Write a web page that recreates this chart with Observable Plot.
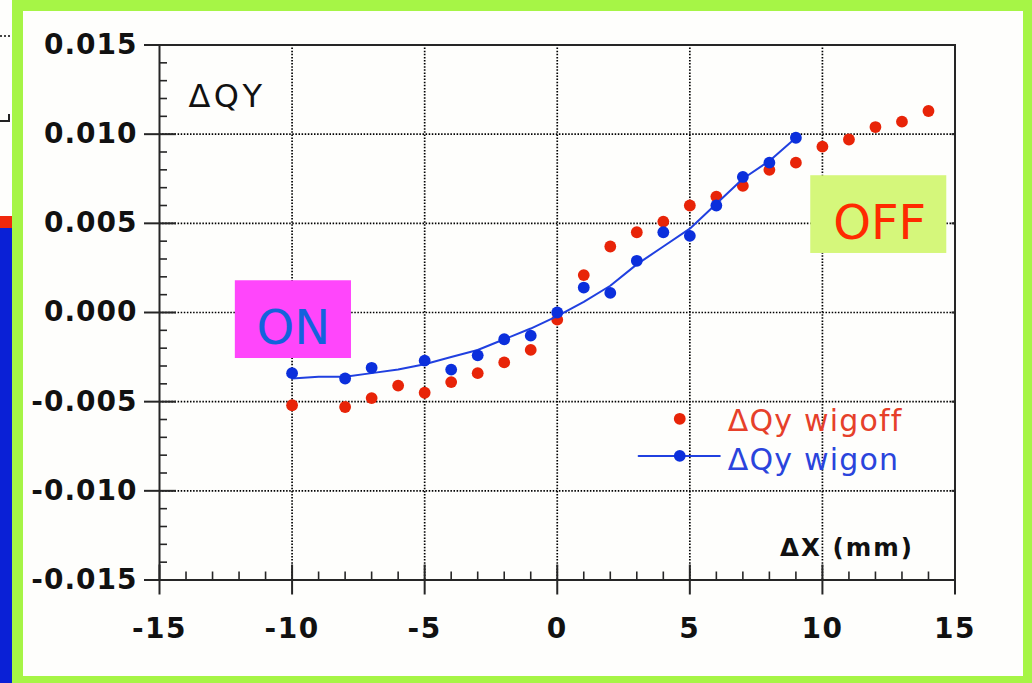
<!DOCTYPE html>
<html>
<head>
<meta charset="utf-8">
<script src="https://cdn.jsdelivr.net/npm/d3@7"></script>
<script src="https://cdn.jsdelivr.net/npm/@observablehq/plot@0.6"></script>
<style>
  html, body { margin: 0; padding: 0; background: #fefefc; }
  #page { position: relative; width: 1032px; height: 683px; overflow: hidden; background: #fefefc; }
  .deco { position: absolute; box-sizing: border-box; }
  #chart { position: absolute; left: 0; top: 0; }
  #chart g[aria-label="y-axis tick label"] text { letter-spacing: 1px; }
  #chart g[aria-label="x-axis tick label"] text { letter-spacing: 1.5px; }
  #chart g[aria-description="title"] text { letter-spacing: 3.5px; }
  #chart g[aria-description="axis-name"] text { letter-spacing: 2px; }
  #chart g[aria-description="legend-text"] text { letter-spacing: 1.2px; }
</style>
</head>
<body>
<div id="page">
  <!-- slide frame and neighbouring slide edge -->
  <div class="deco" style="left:11.5px;top:0;width:1020.5px;height:683px;background:#a6f546"></div>
  <div class="deco" style="left:23px;top:11px;width:1000px;height:665px;background:#fefefc"></div>
  <div class="deco" style="left:0;top:216px;width:11.5px;height:12px;background:#f0280c"></div>
  <div class="deco" style="left:0;top:228px;width:11.5px;height:455px;background:#0a20d6"></div>
  <div class="deco" style="left:0;top:35px;width:10px;height:2px;border-top:2px dotted #444"></div>
  <div class="deco" style="left:0;top:114px;width:10px;height:8px;border-right:2px solid #222;border-bottom:2px solid #222"></div>
  <div id="chart"></div>
</div>
<script>
// Tune shift ΔQy versus horizontal offset ΔX (mm), wiggler off / on
const wigoffX = [-10, -8, -7, -6, -5, -4, -3, -2, -1, 0, 1, 2, 3, 4, 5, 6, 7, 8, 9, 10, 11, 12, 13, 14];
const wigoffY = [-0.0052, -0.0053, -0.0048, -0.0041, -0.0045, -0.0039, -0.0034, -0.0028, -0.0021, -0.0004,
                 0.0021, 0.0037, 0.0045, 0.0051, 0.0060, 0.0065, 0.0071, 0.0080, 0.0084, 0.0093,
                 0.0097, 0.0104, 0.0107, 0.0113];

const wigonX = [-10, -8, -7, -5, -4, -3, -2, -1, 0, 1, 2, 3, 4, 5, 6, 7, 8, 9];
const wigonY = [-0.0034, -0.0037, -0.0031, -0.0027, -0.0032, -0.0024, -0.0015, -0.0013, 0.0000,
                0.0014, 0.0011, 0.0029, 0.0045, 0.0043, 0.0060, 0.0076, 0.0084, 0.0098];

// fitted curve through the wiggler-on points
const fitX = [-10, -9, -8, -7, -6, -5, -4, -3, -2, -1, 0, 1, 2, 3, 4, 5, 6, 7, 8, 9];
const fitY = [-0.0037, -0.0036, -0.0036, -0.0034, -0.0032, -0.0029, -0.0025, -0.0021, -0.0015, -0.0009,
              -0.0002, 0.0006, 0.0015, 0.0027, 0.0037, 0.0047, 0.0061, 0.0075, 0.0085, 0.0098];

const xTicks = [-15, -10, -5, 0, 5, 10, 15];
const yTicks = [-0.015, -0.010, -0.005, 0.000, 0.005, 0.010, 0.015];
const xGrid = [-10, -5, 0, 5, 10];
const yGrid = [-0.010, -0.005, 0.000, 0.005, 0.010];

const seriesNames = ["ΔQy wigoff", "ΔQy wigon"];
const titleText = "ΔQY";
const xName = "ΔX (mm)";

const wigoff = wigoffX.map((x, i) => ({x, y: wigoffY[i]}));
const wigon = wigonX.map((x, i) => ({x, y: wigonY[i]}));
const fit = fitX.map((x, i) => ({x, y: fitY[i]}));

// minor tick positions: four between each labelled tick
const xMinor = d3.range(-15, 15, 1).filter(v => v % 5 !== 0);
const yMinor = d3.range(-14, 15, 1).filter(v => v % 5 !== 0).map(v => v / 1000);

const W = 1032, H = 683;
const mL = 159, mR = 77.5, mT = 44.5, mB = 103.5;
const fw = W - mL - mR, fh = H - mT - mB;

const RED = "#e82408", BLUE = "#0b2fdc", LINE = "#2040e0";
const font = "DejaVu Sans, Verdana, sans-serif";
const dotted = {stroke: "#000", strokeOpacity: 1, strokeWidth: 1.7, strokeDasharray: "1.5,1.6"};
const axisInk = {stroke: "#262626", strokeWidth: 2};

const chart = Plot.plot({
  width: W,
  height: H,
  marginLeft: mL,
  marginRight: mR,
  marginTop: mT,
  marginBottom: mB,
  style: {background: "transparent", overflow: "visible", fontFamily: font},
  x: {domain: [-15, 15], label: null},
  y: {domain: [-0.015, 0.015], label: null},
  marks: [
    Plot.gridX(xGrid, dotted),
    Plot.gridY(yGrid, dotted),

    // ON / OFF annotation boxes
    Plot.rect([{x1: -12.14, x2: -7.76, y1: -0.00258, y2: 0.00178}], {x1: "x1", x2: "x2", y1: "y1", y2: "y2", fill: "#ff46fb"}),
    Plot.rect([{x1: 9.56, x2: 14.69, y1: 0.00331, y2: 0.00767}], {x1: "x1", x2: "x2", y1: "y1", y2: "y2", fill: "#d5f77b"}),
    Plot.text(["ON"], {x: -9.95, y: -0.0008, dy: 2, fontSize: 48, fill: "#1462dc", textAnchor: "middle", lineAnchor: "middle"}),
    Plot.text(["OFF"], {x: 12.16, y: 0.00515, dy: 2.6, fontSize: 48, fill: "#ff2a00", textAnchor: "middle", lineAnchor: "middle"}),

    // frame and ticks
    Plot.frame(axisInk),
    Plot.tickY(yTicks, {y: d => d, insetLeft: -15, insetRight: fw - 17, ...axisInk}),
    Plot.tickY(yMinor, {y: d => d, insetRight: fw - 8, stroke: "#262626", strokeWidth: 1.6}),
    Plot.tickY(yTicks, {y: d => d, insetLeft: fw - 3, ...axisInk}),
    Plot.tickX(xTicks, {x: d => d, insetTop: fh - 15, insetBottom: -15, ...axisInk}),
    Plot.tickX(xMinor, {x: d => d, insetTop: fh - 8, stroke: "#262626", strokeWidth: 1.6}),

    Plot.axisY({ticks: yTicks, tickSize: 0, tickPadding: 22, tickFormat: d => d.toFixed(3),
                fontSize: 28, fontWeight: "bold", fill: "#111"}),
    Plot.axisX({ticks: xTicks, tickSize: 0, tickPadding: 38.5, tickFormat: d => String(d),
                fontSize: 28, fontWeight: "bold", fill: "#111"}),

    // data
    Plot.dot(wigoff, {x: "x", y: "y", r: 5.9, fill: RED}),
    Plot.line(fit, {x: "x", y: "y", stroke: LINE, strokeWidth: 2}),
    Plot.dot(wigon, {x: "x", y: "y", r: 5.9, fill: BLUE}),

    // title and axis name
    Plot.text([titleText], {x: -13.91, y: 0.01219, dy: 1.5, textAnchor: "start", lineAnchor: "middle",
                            fontSize: 32, fill: "#111", ariaDescription: "title"}),
    Plot.text([xName], {x: 13.45, y: -0.01314, dy: 1.5, textAnchor: "end", lineAnchor: "middle",
                        fontSize: 24.5, fontWeight: "bold", fill: "#111", ariaDescription: "axis-name"}),

    // legend
    Plot.dot([{x: 4.62, y: -0.00596}], {x: "x", y: "y", r: 5.9, fill: RED}),
    Plot.line([{x: 3.07, y: -0.00804}, {x: 6.13, y: -0.00804}], {x: "x", y: "y", stroke: LINE, strokeWidth: 2}),
    Plot.dot([{x: 4.62, y: -0.00804}], {x: "x", y: "y", r: 5.9, fill: BLUE}),
    Plot.text([seriesNames[0]], {x: 6.43, y: -0.00596, dy: 2.4, textAnchor: "start", lineAnchor: "middle",
                                 fontSize: 30, fill: "#e6402a", ariaDescription: "legend-text"}),
    Plot.text([seriesNames[1]], {x: 6.43, y: -0.00814, dy: 2.4, textAnchor: "start", lineAnchor: "middle",
                                 fontSize: 30, fill: "#2a44dc", ariaDescription: "legend-text"})
  ]
});

document.getElementById("chart").appendChild(chart);
</script>
</body>
</html>
